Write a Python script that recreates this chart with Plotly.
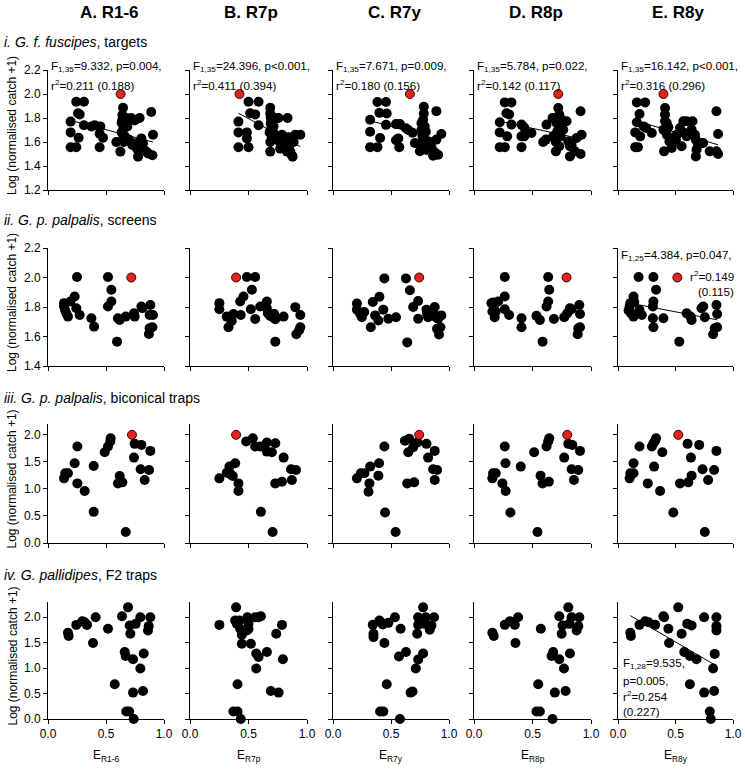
import plotly.graph_objects as go

W, H = 745, 775
FONT = "Arial, Liberation Sans, sans-serif"

# ---------------- data ----------------
col_titles = ["A. R1-6", "B. R7p", "C. R7y", "D. R8p", "E. R8y"]
x_titles = ["E<sub>R1-6</sub>", "E<sub>R7p</sub>", "E<sub>R7y</sub>", "E<sub>R8p</sub>", "E<sub>R8y</sub>"]
row_titles = ["<i>i. G. f. fuscipes</i>, targets",
              "<i>ii. G. p. palpalis</i>, screens",
              "<i>iii. G. p. palpalis</i>, biconical traps",
              "<i>iv. G. pallidipes</i>, F2 traps"]
y_title = "Log (normalised catch +1)"

# Row i: G. f. fuscipes, targets
r1_A_x = [0.195, 0.195, 0.195, 0.244, 0.244, 0.31, 0.259, 0.273, 0.264, 0.31, 0.374, 0.402, 0.451, 0.445, 0.474, 0.445,
          0.589, 0.624, 0.647, 0.641, 0.64, 0.635, 0.65, 0.635, 0.65, 0.66, 0.655, 0.675, 0.684, 0.698, 0.718, 0.747, 0.727,
          0.76, 0.767, 0.776, 0.79, 0.805, 0.819, 0.825, 0.848, 0.862, 0.9, 0.89, 0.905]
r1_A_y = [1.77, 1.68, 1.556, 1.556, 1.936, 1.936, 1.84, 1.83, 1.636, 1.74, 1.73, 1.74, 1.73, 1.67, 1.636, 1.556,
          1.6, 1.52, 1.886, 1.825, 1.78, 1.76, 1.71, 1.68, 1.64, 1.65, 1.6, 1.8, 1.73, 1.62, 1.8, 1.78, 1.575,
          1.59, 1.545, 1.478, 1.8, 1.63, 1.59, 1.54, 1.52, 1.505, 1.49, 1.85, 1.66]
r1_B_x = [0.414, 0.414, 0.414, 0.486, 0.486, 0.5, 0.5, 0.586, 0.514, 0.557, 0.586,
          0.686, 0.686, 0.69, 0.69, 0.694, 0.68, 0.7, 0.686, 0.686, 0.714, 0.729, 0.743, 0.757, 0.766, 0.771,
          0.786, 0.8, 0.814, 0.829, 0.834, 0.843, 0.851, 0.857, 0.871, 0.877, 0.9, 0.943, 0.886]
r1_B_y = [1.77, 1.68, 1.556, 1.68, 1.63, 1.556, 1.936, 1.936, 1.84, 1.83, 1.74,
          1.886, 1.84, 1.8, 1.755, 1.71, 1.68, 1.64, 1.6, 1.52, 1.73, 1.66, 1.8, 1.8, 1.6, 1.545,
          1.66, 1.6, 1.545, 1.52, 1.8, 1.64, 1.575, 1.52, 1.49, 1.478, 1.66, 1.66, 1.6]
r1_C_x = [0.32, 0.32, 0.32, 0.383, 0.383, 0.457, 0.4, 0.463, 0.406, 0.457, 0.543, 0.577, 0.563, 0.543, 0.571,
          0.629, 0.649, 0.686, 0.706, 0.783, 0.783, 0.777, 0.763, 0.791, 0.763, 0.8, 0.771, 0.791, 0.749, 0.777, 0.749, 0.806,
          0.82, 0.834, 0.849, 0.863, 0.877, 0.906, 0.891, 0.934, 0.891]
r1_C_y = [1.786, 1.686, 1.557, 1.557, 1.934, 1.934, 1.843, 1.837, 1.634, 1.743, 1.749, 1.749, 1.63, 1.614, 1.557,
          1.714, 1.7, 1.677, 1.591, 1.894, 1.837, 1.786, 1.757, 1.729, 1.7, 1.686, 1.649, 1.62, 1.586, 1.571, 1.523, 1.534,
          1.6, 1.571, 1.557, 1.486, 1.514, 1.494, 1.857, 1.666, 1.62]
r1_D_x = [0.22, 0.22, 0.22, 0.263, 0.263, 0.32, 0.277, 0.3, 0.283, 0.32, 0.406, 0.429, 0.406, 0.429, 0.406, 0.491,
          0.591, 0.614, 0.62, 0.671, 0.677, 0.72, 0.729, 0.706, 0.734, 0.711, 0.74, 0.7, 0.729, 0.7, 0.749, 0.763,
          0.791, 0.806, 0.82, 0.834, 0.863, 0.911, 0.877, 0.92, 0.911, 0.82]
r1_D_y = [1.764, 1.68, 1.557, 1.557, 1.93, 1.93, 1.84, 1.83, 1.647, 1.745, 1.745, 1.72, 1.647, 1.647, 1.557, 1.675,
          1.6, 1.62, 1.745, 1.8, 1.647, 1.884, 1.828, 1.759, 1.745, 1.69, 1.647, 1.6, 1.564, 1.522, 1.787, 1.702,
          1.773, 1.605, 1.564, 1.577, 1.522, 1.5, 1.633, 1.66, 1.856, 1.48]
r1_E_x = [0.164, 0.236, 0.187, 0.164, 0.15, 0.15, 0.173, 0.193, 0.222, 0.245, 0.294,
          0.409, 0.409, 0.409, 0.401, 0.424, 0.438, 0.395, 0.424, 0.452, 0.447, 0.467, 0.467,
          0.51, 0.504, 0.539, 0.553, 0.568, 0.597, 0.568, 0.597, 0.648, 0.64, 0.669, 0.677, 0.697, 0.683, 0.726, 0.74,
          0.677, 0.798, 0.856, 0.87, 0.856, 0.87]
r1_E_y = [1.93, 1.93, 1.834, 1.764, 1.68, 1.557, 1.557, 1.647, 1.73, 1.717, 1.675,
          1.884, 1.828, 1.773, 1.522, 1.759, 1.722, 1.703, 1.661, 1.633, 1.605, 1.578, 1.55,
          1.661, 1.619, 1.717, 1.564, 1.773, 1.773, 1.68, 1.647, 1.773, 1.703, 1.661, 1.619, 1.578, 1.536, 1.592, 1.592,
          1.48, 1.522, 1.522, 1.5, 1.856, 1.667]

# Row ii: G. p. palpalis, screens
r2_A_x = [0.138, 0.138, 0.147, 0.158, 0.172, 0.193, 0.23, 0.25, 0.244, 0.273, 0.374, 0.397, 0.517, 0.546, 0.546, 0.517,
          0.603, 0.618, 0.595, 0.67, 0.741, 0.747, 0.805, 0.813, 0.882, 0.905, 0.876, 0.876, 0.9, 0.87]
r2_A_y = [1.826, 1.803, 1.78, 1.757, 1.735, 1.837, 1.871, 2.003, 1.792, 1.746, 1.724, 1.667, 2.003, 1.917, 1.837, 1.803,
          1.724, 1.712, 1.565, 1.735, 1.757, 1.735, 1.803, 1.792, 1.814, 1.746, 1.746, 1.656, 1.663, 1.617]
r2_B_x = [0.251, 0.251, 0.314, 0.329, 0.357, 0.371, 0.329, 0.429, 0.457, 0.434, 0.486, 0.557, 0.529, 0.52, 0.557,
          0.6, 0.657, 0.657, 0.666, 0.686, 0.72, 0.729, 0.709, 0.8, 0.729, 0.9, 0.943, 0.943, 0.934, 0.909]
r2_B_y = [1.826, 1.785, 1.735, 1.73, 1.706, 1.753, 1.663, 1.837, 1.871, 1.746, 2.003, 2.003, 1.917, 1.785, 1.719,
          1.803, 1.837, 1.792, 1.757, 1.74, 1.753, 1.717, 1.731, 1.735, 1.565, 1.799, 1.746, 1.663, 1.644, 1.615]
r2_C_x = [0.206, 0.206, 0.234, 0.249, 0.269, 0.326, 0.343, 0.4, 0.363, 0.391, 0.434, 0.443, 0.477, 0.543,
          0.629, 0.663, 0.691, 0.734, 0.734, 0.64, 0.806, 0.811, 0.82, 0.834, 0.877, 0.869, 0.886, 0.906, 0.934,
          0.926, 0.914, 0.897]
r2_C_y = [1.823, 1.782, 1.754, 1.731, 1.766, 1.663, 1.834, 1.869, 1.743, 1.709, 1.782, 1.994, 1.72, 1.731,
          1.994, 1.914, 1.8, 1.841, 1.72, 1.56, 1.782, 1.754, 1.731, 1.766, 1.8, 1.75, 1.731, 1.72, 1.743,
          1.663, 1.613, 1.652]
r2_D_x = [0.149, 0.163, 0.169, 0.186, 0.157, 0.177, 0.206, 0.263, 0.263, 0.263, 0.3, 0.406, 0.406, 0.534, 0.563,
          0.586, 0.634, 0.643, 0.634, 0.62, 0.683, 0.771, 0.797, 0.82, 0.834, 0.9, 0.906, 0.891, 0.906, 0.886]
r2_D_y = [1.826, 1.83, 1.803, 1.769, 1.769, 1.73, 1.837, 1.871, 2.003, 1.785, 1.746, 1.724, 1.663, 1.74, 1.712,
          1.565, 2.003, 1.917, 1.837, 1.803, 1.719, 1.73, 1.757, 1.792, 1.785, 1.814, 1.753, 1.656, 1.663, 1.615]
r2_E_x = [0.107, 0.101, 0.092, 0.112, 0.135, 0.135, 0.141, 0.179, 0.187, 0.207, 0.308, 0.331, 0.308, 0.303,
          0.303, 0.308, 0.395, 0.533, 0.597, 0.631, 0.64, 0.726, 0.741, 0.755, 0.856, 0.862, 0.841, 0.862, 0.827]
r2_E_y = [1.826, 1.803, 1.776, 1.758, 1.735, 1.871, 1.833, 2.003, 1.78, 1.746, 2.003, 1.917, 1.837, 1.803,
          1.724, 1.663, 1.724, 1.565, 1.757, 1.735, 1.712, 1.792, 1.803, 1.73, 1.814, 1.753, 1.656, 1.663, 1.615]

# Row iii: G. p. palpalis, biconical traps
r3_A_x = [0.138, 0.149, 0.172, 0.23, 0.253, 0.253, 0.316, 0.394, 0.394, 0.489, 0.517, 0.537, 0.54,
          0.603, 0.618, 0.641, 0.67, 0.747, 0.805, 0.741, 0.799, 0.833, 0.871, 0.882]
r3_A_y = [1.195, 1.288, 1.288, 1.474, 1.783, 1.102, 0.96, 1.424, 0.576, 1.678, 1.783, 1.876, 1.938,
          1.102, 1.238, 1.121, 0.204, 1.833, 1.814, 1.579, 1.362, 1.164, 1.35, 1.703]
r3_B_x = [0.251, 0.314, 0.337, 0.349, 0.366, 0.414, 0.414, 0.386, 0.48, 0.537, 0.557, 0.6, 0.606,
          0.657, 0.657, 0.7, 0.729, 0.706, 0.729, 0.786, 0.8, 0.863, 0.906, 0.871]
r3_B_y = [1.195, 1.3, 1.412, 1.269, 1.238, 1.102, 0.96, 1.474, 1.876, 1.938, 1.783, 1.783, 0.576,
          1.858, 1.69, 1.678, 1.845, 0.204, 1.102, 1.133, 1.579, 1.362, 1.35, 1.164]
r3_C_x = [0.206, 0.24, 0.271, 0.32, 0.314, 0.306, 0.391, 0.397, 0.443, 0.449, 0.54, 0.62, 0.657,
          0.649, 0.691, 0.729, 0.64, 0.7, 0.806, 0.82, 0.877, 0.863, 0.897, 0.877]
r3_C_y = [1.195, 1.288, 1.288, 1.412, 1.102, 0.947, 1.245, 1.474, 1.783, 0.563, 0.204, 1.889, 1.926,
          1.678, 1.771, 1.858, 1.102, 1.121, 1.833, 1.579, 1.703, 1.362, 1.35, 1.164]
r3_D_x = [0.157, 0.163, 0.186, 0.243, 0.263, 0.269, 0.271, 0.311, 0.4, 0.514, 0.543, 0.569, 0.586,
          0.62, 0.634, 0.643, 0.64, 0.771, 0.806, 0.84, 0.834, 0.854, 0.891, 0.906]
r3_D_y = [1.195, 1.288, 1.288, 1.102, 1.783, 1.474, 0.96, 0.563, 1.412, 1.678, 0.204, 1.245, 1.102,
          1.783, 1.876, 1.938, 1.133, 1.579, 1.833, 1.814, 1.362, 1.164, 1.35, 1.703]
r3_E_x = [0.101, 0.107, 0.135, 0.135, 0.187, 0.259, 0.294, 0.308, 0.323, 0.331, 0.314, 0.366, 0.386,
          0.481, 0.539, 0.605, 0.611, 0.634, 0.64, 0.706, 0.735, 0.755, 0.784, 0.836, 0.856]
r3_E_y = [1.195, 1.288, 1.288, 1.474, 1.783, 1.102, 1.783, 1.845, 1.889, 1.938, 1.412, 0.96, 1.678,
          0.563, 1.102, 1.833, 1.121, 1.579, 1.245, 1.814, 1.362, 0.204, 1.164, 1.35, 1.703]

# Row iv: G. pallidipes, F2 traps
r4_A_x = [0.172, 0.178, 0.244, 0.296, 0.316, 0.336, 0.388, 0.411, 0.517, 0.575, 0.638, 0.661, 0.67, 0.69,
          0.704, 0.71, 0.675, 0.7, 0.739, 0.733, 0.733, 0.756, 0.796, 0.796, 0.825, 0.819, 0.862, 0.868, 0.882]
r4_A_y = [1.695, 1.63, 1.85, 1.922, 1.903, 1.85, 1.494, 2.0, 1.773, 0.682, 2.02, 1.318, 1.24, 2.195,
          1.838, 1.675, 0.149, 0.149, 0.0, 1.175, 0.519, 1.87, 2.0, 0.994, 1.286, 0.552, 1.74, 1.825, 2.0]
r4_B_x = [0.251, 0.394, 0.386, 0.4, 0.423, 0.443, 0.429, 0.443, 0.406, 0.371, 0.406, 0.434, 0.491, 0.5,
          0.486, 0.5, 0.52, 0.566, 0.586, 0.566, 0.557, 0.586, 0.606, 0.657, 0.691, 0.757, 0.737, 0.786, 0.794]
r4_B_y = [1.85, 2.195, 1.935, 1.87, 1.935, 1.656, 1.773, 1.48, 0.682, 0.149, 0.149, 0.0, 2.0, 1.87,
          1.74, 1.77, 1.48, 1.286, 1.221, 0.994, 2.0, 2.0, 2.02, 1.318, 0.552, 0.519, 1.675, 1.85, 1.175]
r4_C_x = [0.343, 0.349, 0.349, 0.4, 0.414, 0.429, 0.477, 0.443, 0.463, 0.406, 0.434, 0.577, 0.534, 0.583,
          0.569, 0.629, 0.669, 0.686, 0.714, 0.726, 0.734, 0.777, 0.734, 0.734, 0.777, 0.8, 0.791, 0.834, 0.849, 0.871]
r4_C_y = [1.851, 1.675, 1.61, 1.935, 1.903, 1.857, 1.89, 1.494, 0.682, 0.149, 0.149, 0.0, 2.0, 1.773,
          1.227, 1.318, 0.519, 0.539, 0.994, 1.675, 1.169, 1.286, 2.0, 1.851, 2.195, 2.0, 1.87, 1.753, 1.838, 2.0]
r4_D_x = [0.157, 0.169, 0.263, 0.306, 0.334, 0.349, 0.354, 0.377, 0.571, 0.549, 0.534, 0.563, 0.671, 0.663,
          0.677, 0.691, 0.729, 0.729, 0.749, 0.757, 0.783, 0.769, 0.806, 0.814, 0.82, 0.834, 0.877, 0.891, 0.9]
r4_D_y = [1.695, 1.63, 1.851, 1.922, 1.903, 1.851, 1.494, 2.0, 1.773, 0.682, 0.149, 0.149, 0.0, 1.24,
          1.318, 0.519, 1.175, 2.02, 1.675, 1.838, 0.552, 0.994, 2.195, 1.87, 1.286, 2.0, 1.74, 1.825, 2.0]
r4_E_x = [0.107, 0.112, 0.187, 0.236, 0.265, 0.323, 0.395, 0.401, 0.438, 0.444, 0.553, 0.524, 0.576, 0.602,
          0.64, 0.625, 0.625, 0.683, 0.749, 0.749, 0.827, 0.841, 0.856, 0.856, 0.856, 0.836, 0.798, 0.807]
r4_E_y = [1.695, 1.63, 1.851, 1.922, 1.903, 1.851, 2.02, 2.0, 1.773, 1.494, 1.675, 2.195, 1.318, 1.87,
          1.838, 1.24, 0.682, 1.175, 2.0, 0.519, 0.994, 1.28, 2.0, 1.825, 1.74, 0.552, 0.149, 0.0]

# red outliers (excluded from the regressions)
red_y = [2.0, 2.0, 2.0, None]
red_x = [[0.626, 0.423, 0.663, 0.72, 0.395],
         [0.718, 0.394, 0.743, 0.791, 0.516],
         [0.724, 0.394, 0.743, 0.797, 0.524],
         None]

# regression fits: (row, col) -> intercept, slope
fit_rows = [0, 0, 0, 0, 0, 1, 3]
fit_cols = [0, 1, 2, 3, 4, 4, 4]
fit_intercept = [1.829, 2.059, 1.862, 1.8195, 1.820, 1.842, 2.173]
fit_slope = [-0.2535, -0.5285, -0.2655, -0.2113, -0.2792, -0.1494, -1.3178]

stats_row1 = [("1,35", "9.332", "p=0.004", "0.211", "0.188"),
              ("1,35", "24.396", "p<0.001", "0.411", "0.394"),
              ("1,35", "7.671", "p=0.009", "0.180", "0.156"),
              ("1,35", "5.784", "p=0.022", "0.142", "0.117"),
              ("1,35", "16.142", "p<0.001", "0.316", "0.296")]

y_ranges = [[1.2, 2.2], [1.4, 2.2], [0, 2.2], [0, 2.3]]
y_ticks = [[1.2, 1.4, 1.6, 1.8, 2.0, 2.2], [1.4, 1.6, 1.8, 2.0, 2.2],
           [0, 0.5, 1.0, 1.5, 2.0], [0, 0.5, 1.0, 1.5, 2.0]]
x_ticks = [0, 0.5, 1.0]

data_x = [[r1_A_x, r1_B_x, r1_C_x, r1_D_x, r1_E_x],
          [r2_A_x, r2_B_x, r2_C_x, r2_D_x, r2_E_x],
          [r3_A_x, r3_B_x, r3_C_x, r3_D_x, r3_E_x],
          [r4_A_x, r4_B_x, r4_C_x, r4_D_x, r4_E_x]]
data_y = [[r1_A_y, r1_B_y, r1_C_y, r1_D_y, r1_E_y],
          [r2_A_y, r2_B_y, r2_C_y, r2_D_y, r2_E_y],
          [r3_A_y, r3_B_y, r3_C_y, r3_D_y, r3_E_y],
          [r4_A_y, r4_B_y, r4_C_y, r4_D_y, r4_E_y]]

# ---------------- layout geometry (pixels) ----------------
col_px = [(48, 164), (190, 307), (333, 449), (474, 591), (618, 733)]
row_px = [(70, 190), (248, 366), (424, 543), (602, 719)]
STAT = 11.6


def px(x):
    return x / W


def py(y):
    return 1 - y / H


fig = go.Figure()
layout = dict(width=W, height=H, margin=dict(l=0, r=0, t=0, b=0, pad=0, autoexpand=False),
              plot_bgcolor="white", paper_bgcolor="white", showlegend=False,
              font=dict(family=FONT, size=12, color="black"))
annotations = []

for r in range(4):
    for c in range(5):
        k = r * 5 + c + 1
        xa = "x" if k == 1 else f"x{k}"
        ya = "y" if k == 1 else f"y{k}"
        xkey = "xaxis" if k == 1 else f"xaxis{k}"
        ykey = "yaxis" if k == 1 else f"yaxis{k}"
        x0, x1 = col_px[c]
        y0, y1 = row_px[r]
        layout[xkey] = dict(domain=[px(x0), px(x1)], anchor=ya, range=[0, 1.0],
                            tickvals=x_ticks, ticktext=["0.0", "0.5", "1.0"],
                            showticklabels=(r == 3), ticks="outside", ticklen=4,
                            tickcolor="black", showline=True, linecolor="black",
                            linewidth=1, showgrid=False, zeroline=False, automargin=False,
                            tickfont=dict(size=12, family=FONT))
        layout[ykey] = dict(domain=[py(y1), py(y0)], anchor=xa, range=y_ranges[r],
                            tickvals=y_ticks[r], tickformat=".1f",
                            showticklabels=(c == 0), ticks="outside", ticklen=4,
                            tickcolor="black", showline=True, linecolor="black",
                            linewidth=1, showgrid=False, zeroline=False, automargin=False,
                            tickfont=dict(size=12, family=FONT))
        fig.add_trace(go.Scatter(x=data_x[r][c], y=data_y[r][c], mode="markers",
                                 xaxis=xa, yaxis=ya, cliponaxis=False,
                                 marker=dict(size=10, color="black")))
        if red_x[r] is not None:
            fig.add_trace(go.Scatter(x=[red_x[r][c]], y=[red_y[r]], mode="markers",
                                     xaxis=xa, yaxis=ya, cliponaxis=False,
                                     marker=dict(size=9, color="#e0261c",
                                                 line=dict(color="#3a0000", width=1))))

# regression lines
for i in range(len(fit_rows)):
    r, c = fit_rows[i], fit_cols[i]
    k = r * 5 + c + 1
    xa = "x" if k == 1 else f"x{k}"
    ya = "y" if k == 1 else f"y{k}"
    xs = [min(data_x[r][c]), max(data_x[r][c])]
    ys = [fit_intercept[i] + fit_slope[i] * v for v in xs]
    fig.add_trace(go.Scatter(x=xs, y=ys, mode="lines", xaxis=xa, yaxis=ya,
                             line=dict(color="black", width=1)))

# column titles
for c in range(5):
    x0, x1 = col_px[c]
    annotations.append(dict(x=px((x0 + x1) / 2 + 3), y=py(13), xref="paper", yref="paper",
                            text=f"<b>{col_titles[c]}</b>", showarrow=False,
                            font=dict(size=17, family=FONT), xanchor="center", yanchor="middle"))
    annotations.append(dict(x=px((x0 + x1) / 2), y=py(756), xref="paper", yref="paper",
                            text=x_titles[c], showarrow=False,
                            font=dict(size=12, family=FONT), xanchor="center", yanchor="middle"))

# row titles and y titles
row_title_y = [42, 220, 398, 575]
for r in range(4):
    annotations.append(dict(x=px(2), y=py(row_title_y[r]), xref="paper", yref="paper",
                            text=row_titles[r], showarrow=False,
                            font=dict(size=14, family=FONT), xanchor="left", yanchor="middle"))
    y0, y1 = row_px[r]
    annotations.append(dict(x=px(12), y=py((y0 + y1) / 2 - 4), xref="paper", yref="paper",
                            text=y_title, showarrow=False, textangle=-90,
                            font=dict(size=12, family=FONT), xanchor="center", yanchor="middle"))

# row i stats
for c in range(5):
    df, f, p, r2, r2a = stats_row1[c]
    x0 = col_px[c][0] + 1
    annotations.append(dict(x=px(x0), y=py(67), xref="paper", yref="paper",
                            text=f"F<sub>{df}</sub>={f}, {p},", showarrow=False,
                            font=dict(size=STAT, family=FONT), xanchor="left", yanchor="middle"))
    annotations.append(dict(x=px(x0), y=py(85), xref="paper", yref="paper",
                            text=f"r<sup>2</sup>={r2} ({r2a})", showarrow=False,
                            font=dict(size=STAT, family=FONT), xanchor="left", yanchor="middle"))

# row ii E stats
annotations.append(dict(x=px(619), y=py(255), xref="paper", yref="paper",
                        text="F<sub>1,25</sub>=4.384, p=0.047,", showarrow=False,
                        font=dict(size=STAT, family=FONT), xanchor="left", yanchor="middle"))
annotations.append(dict(x=px(736), y=py(276), xref="paper", yref="paper",
                        text="r<sup>2</sup>=0.149", showarrow=False,
                        font=dict(size=STAT, family=FONT), xanchor="right", yanchor="middle"))
annotations.append(dict(x=px(736), y=py(292), xref="paper", yref="paper",
                        text="(0.115)", showarrow=False,
                        font=dict(size=STAT, family=FONT), xanchor="right", yanchor="middle"))

# row iv E stats
for txt, yy in [("F<sub>1,28</sub>=9.535,", 663), ("p=0.005,", 680),
                ("r<sup>2</sup>=0.254", 696), ("(0.227)", 711)]:
    annotations.append(dict(x=px(621), y=py(yy), xref="paper", yref="paper",
                            text=txt, showarrow=False,
                            font=dict(size=STAT, family=FONT), xanchor="left", yanchor="middle"))

layout["annotations"] = annotations
fig.update_layout(**layout)
fig.write_html("out.html", config={"displayModeBar": False, "staticPlot": True},
               post_script="document.body.style.margin='0px';document.body.style.overflow='hidden';")
